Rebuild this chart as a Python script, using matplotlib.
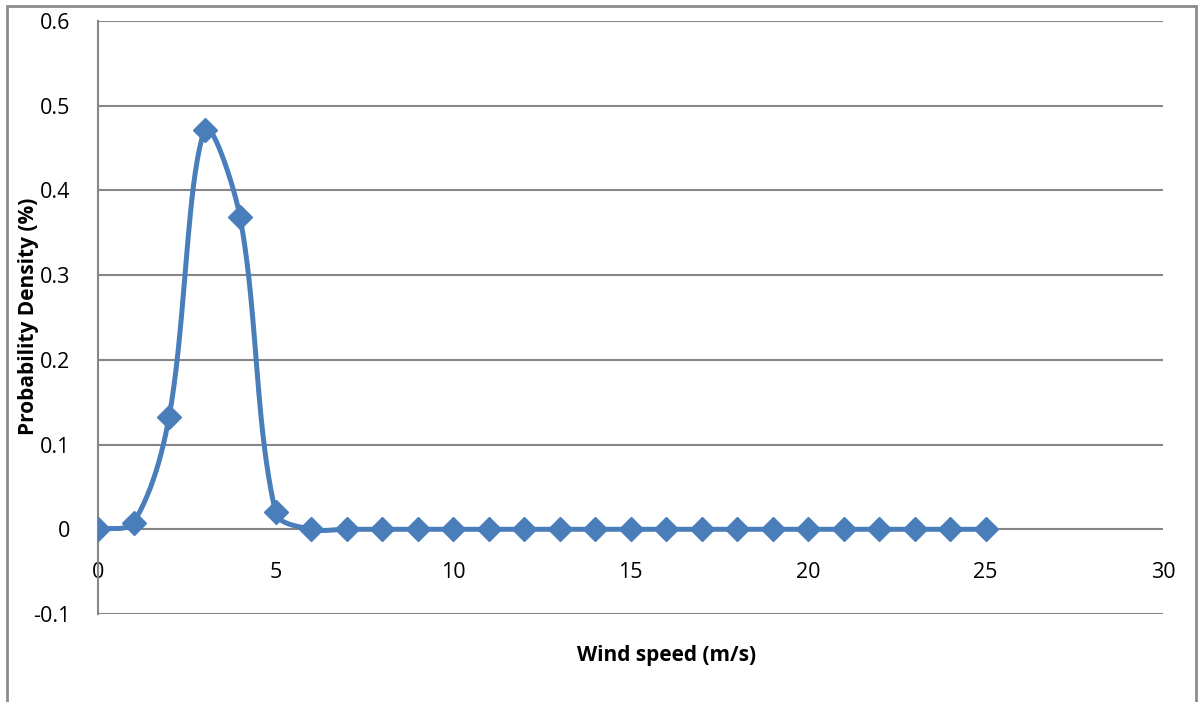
import numpy as np
import matplotlib.pyplot as plt
from matplotlib.patches import Rectangle

# wind speed (m/s) and probability density
wind_speed = list(range(0, 26))
density = [0.0, 0.008, 0.132, 0.471, 0.369, 0.02] + [0.0] * 20

x_ticks = [0, 5, 10, 15, 20, 25, 30]
y_ticks = [-0.1, 0, 0.1, 0.2, 0.3, 0.4, 0.5, 0.6]
y_tick_labels = ['-0.1', '0', '0.1', '0.2', '0.3', '0.4', '0.5', '0.6']


def excel_smooth(pts, n=40):
    # Bezier between points; control arms scaled by neighbouring segment lengths (pixel space)
    p = np.vstack([pts[0], pts, pts[-1]])
    out = []
    t = np.linspace(0, 1, n)[:, None]
    for i in range(1, len(p) - 2):
        p0, p1, p2, p3 = p[i - 1], p[i], p[i + 1], p[i + 2]
        d01 = np.linalg.norm(p1 - p0)
        d12 = np.linalg.norm(p2 - p1)
        d23 = np.linalg.norm(p3 - p2)
        c1 = p1 + (p2 - p0) * d12 / (3 * (d01 + d12))
        c2 = p2 - (p3 - p1) * d12 / (3 * (d12 + d23))
        b = (1 - t) ** 3 * p1 + 3 * (1 - t) ** 2 * t * c1 + 3 * (1 - t) * t ** 2 * c2 + t ** 3 * p2
        out.append(b)
    return np.vstack(out)


plt.rcParams['font.family'] = ['Open Sans', 'DejaVu Sans']

fig = plt.figure(figsize=(11.98, 7.02), dpi=100)
ax = fig.add_axes([98 / 1198, 1 - 614 / 702, 1065 / 1198, 593 / 702])
ax.set_xlim(0, 30)
ax.set_ylim(-0.1, 0.6)

grid_color = '#868686'
for v in y_ticks:
    ax.axhline(v, color=grid_color, lw=1.5, zorder=1)

# smooth in display space so the curve shape matches the screen, then map back
pix = ax.transData.transform(np.column_stack([wind_speed, density]))
curve = ax.transData.inverted().transform(excel_smooth(pix))
ax.plot(curve[:, 0], curve[:, 1], color='#4A7EBB', lw=3.6, zorder=3, solid_capstyle='round')
ax.plot(wind_speed, density, ls='none', marker='D', ms=12.5, color='#4A7EBB', zorder=4)

for s in ['top', 'right', 'bottom']:
    ax.spines[s].set_visible(False)
ax.spines['left'].set_color(grid_color)
ax.spines['left'].set_linewidth(1.5)

ax.set_xticks(x_ticks)
ax.set_xticklabels([str(v) for v in x_ticks], fontsize=15.5)
ax.set_yticks(y_ticks)
ax.set_yticklabels(y_tick_labels, fontsize=15.5)
ax.tick_params(axis='both', length=0)
ax.tick_params(axis='y', pad=20)
# x tick labels sit just under the zero line
for lbl in ax.get_xticklabels():
    lbl.set_y(0.1429 - 0.055)
ax.tick_params(axis='x', pad=0)

fig.text(667 / 1198, 1 - 655 / 702, 'Wind speed (m/s)', ha='center', va='center',
         fontsize=15, fontweight='bold')
fig.text(29 / 1198, 1 - 316 / 702, 'Probability Density (%)', ha='center', va='center',
         rotation=90, fontsize=15, fontweight='bold')

# chart border
fig.add_artist(Rectangle((7 / 1198, -0.05), 1189 / 1198, 1.05 - 6 / 702,
                         transform=fig.transFigure, fill=False,
                         edgecolor='#8c8c8c', lw=2))

fig.savefig('out.png', dpi=100)
